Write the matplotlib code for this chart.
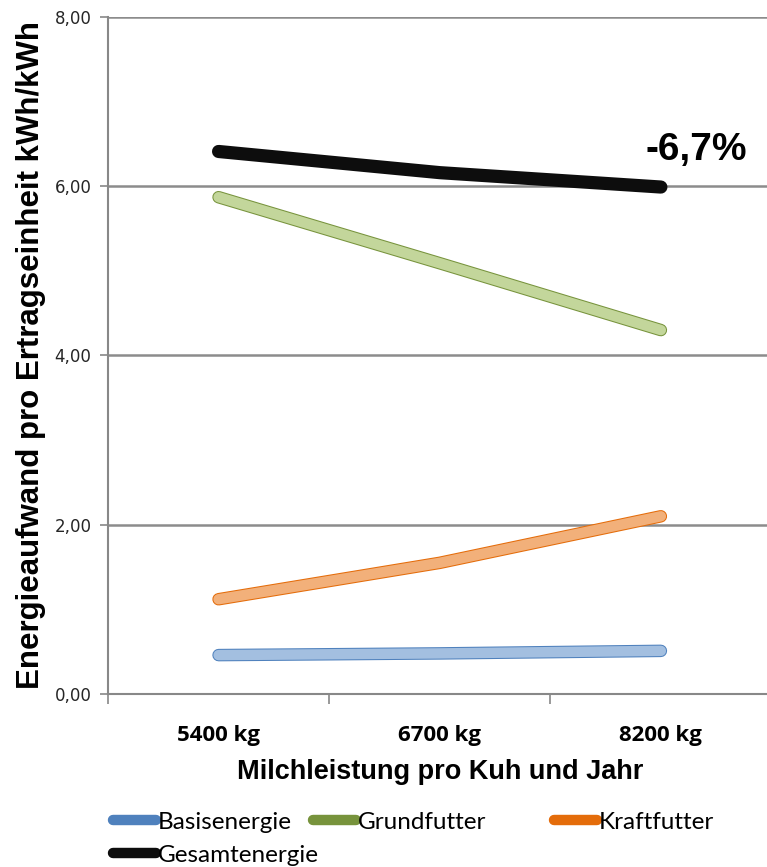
import matplotlib
matplotlib.use('Agg')
import matplotlib.pyplot as plt
import matplotlib.patheffects as pe
from matplotlib.lines import Line2D

categories = ['5400 kg', '6700 kg', '8200 kg']
basisenergie = [0.46, 0.48, 0.51]
grundfutter = [5.87, 5.09, 4.30]
kraftfutter = [1.12, 1.55, 2.10]
gesamtenergie = [6.41, 6.16, 5.99]
y_ticks = [0, 2, 4, 6, 8]
y_ticklabels = ['0,00', '2,00', '4,00', '6,00', '8,00']
annotation = '-6,7%'

fig = plt.figure(figsize=(7.67, 8.67), dpi=100)
ax = fig.add_axes([0.1408, 0.1995, 0.865, 0.781])

x = list(range(len(categories)))

# series: label, values, fill colour, edge colour
series = [
    ('Basisenergie', basisenergie, '#a3bfe0', '#4f81bd'),
    ('Grundfutter', grundfutter, '#c3d69b', '#77933c'),
    ('Kraftfutter', kraftfutter, '#f2b07a', '#e46c0a'),
]
for label, vals, fill, edge in series:
    ax.plot(x, vals, color=fill, lw=7.5, solid_capstyle='round', solid_joinstyle='round',
            path_effects=[pe.Stroke(linewidth=9, foreground=edge), pe.Normal()], zorder=3)
ax.plot(x, gesamtenergie, color='#0d0d0d', lw=9.5, solid_capstyle='round',
        solid_joinstyle='round', zorder=4)

ax.text(2.16, 6.43, annotation, ha='center', va='center',
        fontsize=28, fontweight='bold', family='Liberation Sans')

ax.set_xlim(-0.5, 2.5)
ax.set_ylim(0, 8)
ax.set_yticks(y_ticks)
ax.set_yticklabels(y_ticklabels, fontsize=12, color='#262626')
ax.set_xticks(x)
ax.set_xticklabels(categories, fontsize=16, fontweight='bold', family='Open Sans')
ax.set_xticks([-0.5, 0.5, 1.5], minor=True)
ax.tick_params(axis='x', which='major', length=0, pad=22)
ax.tick_params(axis='x', which='minor', length=7, color='#888888', width=1.2)
ax.tick_params(axis='y', length=6, color='#888888', width=1.2, pad=6)

ax.grid(axis='y', color='#8c8c8c', lw=1.8)
ax.set_axisbelow(True)
for s in ['top', 'right']:
    ax.spines[s].set_visible(False)
for s in ['left', 'bottom']:
    ax.spines[s].set_color('#888888')
    ax.spines[s].set_linewidth(1.5)

ax.set_ylabel('Energieaufwand pro Ertragseinheit kWh/kWh', fontsize=22.5,
              fontweight='bold', family='Liberation Sans', labelpad=6)
ax.set_xlabel('Milchleistung pro Kuh und Jahr', fontsize=19.5, fontweight='bold',
              family='Liberation Sans', labelpad=10)

# legend entries placed individually like the Excel legend
legend_items = [
    ('Basisenergie', '#4f81bd', 113, 822),
    ('Grundfutter', '#77933c', 313, 822),
    ('Kraftfutter', '#e46c0a', 554, 822),
    ('Gesamtenergie', '#0d0d0d', 113, 855),
]
for label, col, px, py in legend_items:
    h = Line2D([0], [0], color=col, lw=7.5, solid_capstyle='round')
    leg = fig.legend([h], [label], loc='center left',
                     bbox_to_anchor=(px / 767, 1 - py / 867), frameon=False,
                     handlelength=1.75, handletextpad=0.1, borderpad=0, borderaxespad=0,
                     prop={'family': 'Lato', 'size': 17.5})

fig.savefig('out.png', dpi=100)
